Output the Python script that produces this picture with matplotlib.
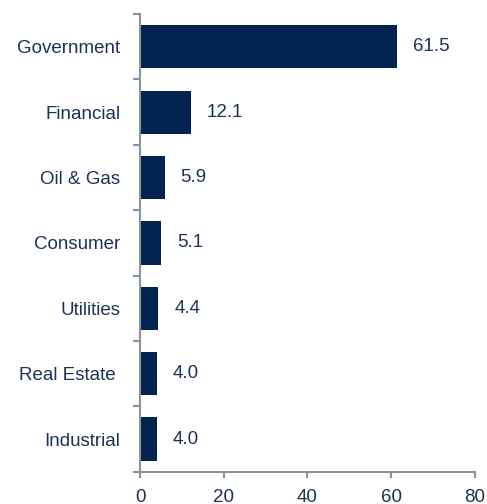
import matplotlib
matplotlib.use('Agg')
import matplotlib.pyplot as plt
import numpy as np

plt.rcParams['font.family'] = ['Liberation Sans', 'DejaVu Sans']

# data, top to bottom
sectors = ['Government', 'Financial', 'Oil & Gas', 'Consumer', 'Utilities', 'Real Estate ', 'Industrial']
values = [61.5, 12.1, 5.9, 5.1, 4.4, 4.0, 4.0]
xticks = [0, 20, 40, 60, 80]

bar_col = '#02234f'
txt_col = '#1c3258'
axis_col = '#8a949e'
fs = 13.5

fig = plt.figure(figsize=(4.87, 5.04), dpi=100)
ax = fig.add_axes([0.2875, 0.064, 0.6875, 0.908])

ypos = np.arange(len(sectors))
ax.barh(ypos, values, height=0.66, color=bar_col)

#value labels right of each bar
for y, v in zip(ypos, values):
    ax.text(v + 3.8, y, '%.1f' % v, va='center', ha='left', fontsize=fs, color=txt_col)

ax.set_xlim(0, 80)
ax.set_ylim(len(sectors) - 0.5, -0.5)
ax.set_xticks(xticks)
ax.set_yticks(ypos)
ax.set_yticklabels(sectors)
ax.set_yticks(np.arange(-0.5, len(sectors)), minor=True)

for s in ['top', 'right']:
    ax.spines[s].set_visible(False)
for s in ['left', 'bottom']:
    ax.spines[s].set_color(axis_col)
    ax.spines[s].set_linewidth(1.5)

ax.tick_params(axis='y', which='major', length=0, pad=14, labelsize=fs, labelcolor=txt_col)
ax.tick_params(axis='y', which='minor', length=5, width=1.5, color=axis_col)
ax.tick_params(axis='x', length=4, width=1.5, color=axis_col, pad=8.5, labelsize=fs, labelcolor=txt_col)

fig.savefig('out.png', dpi=100)
